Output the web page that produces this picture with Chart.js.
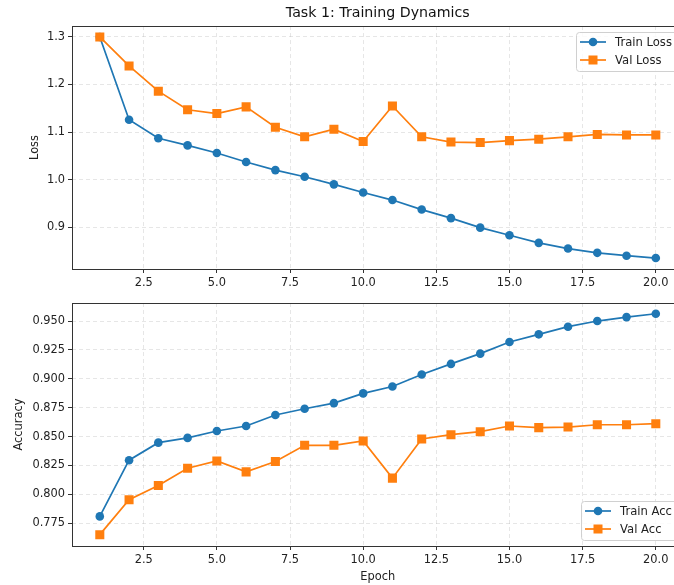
<!DOCTYPE html>
<html>
<head>
<meta charset="utf-8">
<script src="https://cdn.jsdelivr.net/npm/chart.js@4/dist/chart.umd.min.js"></script>
<style>
  html, body { margin: 0; padding: 0; background: #fff; overflow: hidden; }
  .wrap { width: 674px; height: 585px; overflow: hidden; position: relative; }
  canvas { display: block; }
</style>
</head>
<body>
<div class="wrap">
  <canvas id="lossChart" width="690" height="290"></canvas>
  <canvas id="accChart" width="690" height="295"></canvas>
</div>
<script>
// Data
const epochs = [1, 2, 3, 4, 5, 6, 7, 8, 9, 10, 11, 12, 13, 14, 15, 16, 17, 18, 19, 20];
const trainLoss = [1.300, 1.126, 1.087, 1.072, 1.056, 1.037, 1.020, 1.006, 0.990, 0.973,
                   0.957, 0.937, 0.919, 0.899, 0.883, 0.867, 0.855, 0.846, 0.840, 0.835];
const valLoss = [1.300, 1.239, 1.186, 1.147, 1.139, 1.153, 1.110, 1.090, 1.106, 1.080,
                 1.155, 1.090, 1.079, 1.078, 1.082, 1.085, 1.090, 1.095, 1.094, 1.094];
const trainAcc = [0.781, 0.8296, 0.8448, 0.8489, 0.8549, 0.8592, 0.8687, 0.8741, 0.8790, 0.8874,
                  0.8934, 0.9037, 0.9129, 0.9218, 0.9319, 0.9385, 0.9451, 0.9500, 0.9534, 0.9563];
const valAcc = [0.7652, 0.7954, 0.8078, 0.8227, 0.8290, 0.8195, 0.8285, 0.8425, 0.8425, 0.8463,
                0.8141, 0.8480, 0.8517, 0.8543, 0.8592, 0.8578, 0.8583, 0.8603, 0.8603, 0.8612];
const xTicks = [2.5, 5.0, 7.5, 10.0, 12.5, 15.0, 17.5, 20.0];
const lossTicks = [0.9, 1.0, 1.1, 1.2, 1.3];
const accTicks = [0.775, 0.800, 0.825, 0.850, 0.875, 0.900, 0.925, 0.950];

const BLUE = '#1f77b4';
const ORANGE = '#ff7f0e';
const FONT = 'DejaVu Sans';
const GRID = 'rgba(176,176,176,0.32)';

function toPoints(ys) {
    return epochs.map((e, i) => ({ x: e, y: ys[i] }));
}

// box around the axes (matplotlib spines)
const frame = {
    id: 'frame',
    afterDraw(chart) {
        const { ctx, chartArea: a } = chart;
        ctx.save();
        ctx.strokeStyle = '#333';
        ctx.lineWidth = 1;
        ctx.strokeRect(Math.round(a.left) + 0.5, Math.round(a.top) + 0.5,
            Math.round(a.right - a.left), Math.round(a.bottom - a.top));
        ctx.restore();
    }
};

// legend drawn inside the axes like matplotlib
function boxLegend(box, items) {
    return {
        id: 'boxLegend',
        afterDraw(chart) {
            const ctx = chart.ctx;
            ctx.save();
            ctx.fillStyle = 'rgba(255,255,255,0.85)';
            ctx.strokeStyle = '#d0d0d0';
            ctx.lineWidth = 1;
            ctx.beginPath();
            ctx.roundRect(box.x + 0.5, box.y + 0.5, box.w, box.h, 3);
            ctx.fill();
            ctx.stroke();
            items.forEach((it, i) => {
                const y = box.rowY[i];
                ctx.strokeStyle = it.color;
                ctx.lineWidth = 1.7;
                ctx.beginPath();
                ctx.moveTo(box.lineX, y);
                ctx.lineTo(box.lineX + 26, y);
                ctx.stroke();
                ctx.fillStyle = it.color;
                const mx = box.lineX + 13;
                if (it.shape === 'circle') {
                    ctx.beginPath();
                    ctx.arc(mx, y, 4.3, 0, Math.PI * 2);
                    ctx.fill();
                } else {
                    ctx.fillRect(mx - 4.5, y - 4.5, 9, 9);
                }
                ctx.fillStyle = '#222';
                ctx.font = '11.6px "' + FONT + '"';
                ctx.textBaseline = 'middle';
                ctx.fillText(it.label, box.textX, y + 0.5);
            });
            ctx.restore();
        }
    };
}

function lineDataset(label, ys, color, style, order) {
    return {
        label: label,
        data: toPoints(ys),
        borderColor: color,
        backgroundColor: color,
        borderWidth: 1.7,
        pointStyle: style,
        pointRadius: style === 'rect' ? 6.4 : 4.3,
        pointBorderWidth: 0,
        pointHoverRadius: style === 'rect' ? 6.4 : 4.3,
        tension: 0,
        order: order
    };
}

function makeOptions(cfg) {
    return {
        responsive: false,
        animation: false,
        devicePixelRatio: 1,
        layout: { padding: { left: 0, right: 6, top: cfg.padTop, bottom: 0 } },
        plugins: {
            legend: { display: false },
            tooltip: { enabled: false },
            title: cfg.title ? {
                display: true,
                text: cfg.title,
                fullSize: false,
                color: '#111',
                font: { family: FONT, size: 14.2, weight: 'normal' },
                padding: { top: 5, bottom: 4 }
            } : { display: false }
        },
        scales: {
            x: {
                type: 'linear',
                min: 0.05,
                max: 20.95,
                afterBuildTicks: s => { s.ticks = xTicks.map(v => ({ value: v })); },
                afterFit: s => { s.height = cfg.xHeight; },
                ticks: {
                    color: '#222',
                    font: { family: FONT, size: 11.4 },
                    padding: 3,
                    maxRotation: 0,
                    autoSkip: false,
                    callback: v => v.toFixed(1)
                },
                grid: { color: GRID, lineWidth: 1, tickColor: '#333', tickLength: 4 },
                border: { display: false, dash: [4, 3] },
                title: cfg.xTitle ? {
                    display: true,
                    text: cfg.xTitle,
                    color: '#222',
                    font: { family: FONT, size: 11.4 },
                    padding: { top: 0, bottom: 1.5 }
                } : { display: false }
            },
            y: {
                type: 'linear',
                min: cfg.yMin,
                max: cfg.yMax,
                afterBuildTicks: s => { s.ticks = cfg.yTicks.map(v => ({ value: v })); },
                afterFit: s => { s.width = 72; },
                ticks: {
                    color: '#222',
                    font: { family: FONT, size: 11.4 },
                    padding: 3,
                    autoSkip: false,
                    callback: v => v.toFixed(cfg.yDigits)
                },
                grid: { color: GRID, lineWidth: 1, tickColor: '#333', tickLength: 4 },
                border: { display: false, dash: [4, 3] },
                title: {
                    display: true,
                    text: cfg.yTitle,
                    color: '#222',
                    font: { family: FONT, size: 11.4 },
                    padding: { top: cfg.yTitlePad, bottom: 0 }
                }
            }
        }
    };
}

new Chart(document.getElementById('lossChart'), {
    type: 'line',
    data: {
        datasets: [
            lineDataset('Train Loss', trainLoss, BLUE, 'circle', 1),
            lineDataset('Val Loss', valLoss, ORANGE, 'rect', 0)
        ]
    },
    options: makeOptions({
        title: 'Task 1: Training Dynamics',
        padTop: 0,
        xHeight: 21,
        yMin: 0.812, yMax: 1.323,
        yTicks: lossTicks, yDigits: 1,
        yTitle: 'Loss', yTitlePad: 28.5
    }),
    plugins: [frame, boxLegend(
        { x: 576, y: 32, w: 120, h: 39, lineX: 580, textX: 615, rowY: [42, 60] },
        [
            { label: 'Train Loss', color: BLUE, shape: 'circle' },
            { label: 'Val Loss', color: ORANGE, shape: 'rect' }
        ]
    )]
});

new Chart(document.getElementById('accChart'), {
    type: 'line',
    data: {
        datasets: [
            lineDataset('Train Acc', trainAcc, BLUE, 'circle', 1),
            lineDataset('Val Acc', valAcc, ORANGE, 'rect', 0)
        ]
    },
    options: makeOptions({
        title: null,
        padTop: 13,
        xHeight: 39,
        xTitle: 'Epoch',
        yMin: 0.7554, yMax: 0.9656,
        yTicks: accTicks, yDigits: 3,
        yTitle: 'Accuracy', yTitlePad: 12
    }),
    plugins: [frame, boxLegend(
        { x: 581, y: 211, w: 120, h: 39, lineX: 585, textX: 620, rowY: [221, 239] },
        [
            { label: 'Train Acc', color: BLUE, shape: 'circle' },
            { label: 'Val Acc', color: ORANGE, shape: 'rect' }
        ]
    )]
});
</script>
</body>
</html>
